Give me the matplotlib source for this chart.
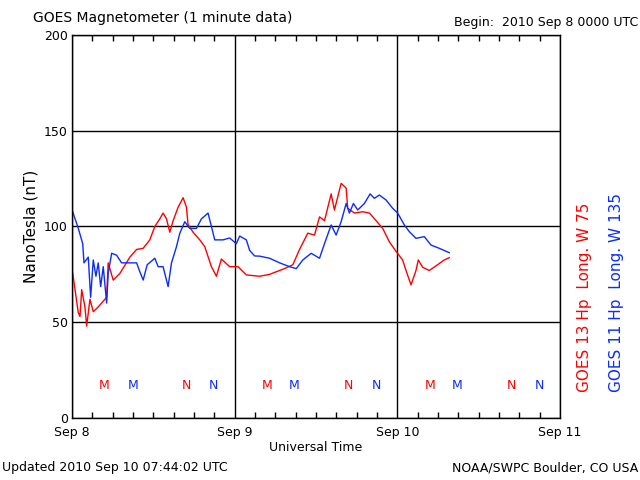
import matplotlib
matplotlib.use("Agg")
import matplotlib.pyplot as plt
from matplotlib.ticker import MultipleLocator

# hours since 2010 Sep 8 00:00 UTC, values in nT
g13_hours = [0.1, 0.93, 1.18, 1.43, 1.91, 2.16, 2.65, 3.14, 3.87, 4.61, 5.11, 5.34,
             6.08, 7.07, 8.54, 9.53, 10.5, 11.48, 12.22, 12.96, 13.44, 13.94, 14.43,
             14.92, 15.65, 16.39, 16.89, 17.12, 17.86, 18.85, 19.58, 20.57, 21.31,
             22.04, 23.26, 24.49, 25.72, 27.68, 29.15, 31.36, 32.58, 33.57, 34.79,
             35.78, 36.52, 37.25, 38.24, 38.72, 39.71, 40.45, 40.68, 41.67, 42.89,
             43.88, 44.87, 45.84, 46.82, 47.81, 48.78, 49.28, 50.02, 50.75, 51.09,
             51.73, 52.71, 53.93, 54.92, 55.66]
g13_nt = [75.6, 55, 53, 67, 58, 48, 62, 55.5, 58, 61, 63, 81,
          72, 75.5, 84, 88, 88.6, 93, 100, 104, 107, 104, 97,
          103, 110, 115, 110, 101, 97, 93, 89.5, 79, 74,
          83, 79, 79, 74.7, 74, 75, 78, 80, 88, 96.5,
          95.5, 105, 103, 117, 108.6, 122.5, 120, 109.5, 107, 107.7,
          107, 103, 99, 92, 87, 82.5, 77, 69.5, 77, 82.5,
          78.7, 77, 80, 82.5, 83.7]

g11_hours = [0.1, 0.93, 1.58, 1.77, 2.4, 2.75, 3.14, 3.53, 3.87, 4.23, 4.61, 5.11,
             5.34, 5.85, 6.58, 7.32, 8.05, 9.53, 10.01, 10.5, 11.09, 12.22, 12.71,
             13.44, 14.18, 14.68, 15.42, 15.9, 16.64, 17.37, 18.36, 19.1, 20.07,
             20.57, 21.06, 22.28, 23.26, 24.25, 24.74, 25.72, 26.21, 26.95, 27.68,
             29.15, 30.63, 32.1, 33.09, 34.06, 35.29, 36.52, 37.25, 38.24, 38.97,
             39.71, 40.45, 40.93, 41.52, 42.16, 43.14, 43.98, 44.61, 45.35, 46.34,
             47.31, 48.05, 49.03, 49.77, 50.75, 51.98, 52.96, 54.18, 55.66]
g11_nt = [107.7, 99, 91, 81, 84, 63, 82.5, 74, 81, 68.6, 79, 60,
          75.5, 86, 85, 81, 81, 81, 76.4, 72, 80, 83.4, 79,
          79, 68.6, 81, 89.5, 96.4, 102.5, 99, 99, 104, 107,
          100, 93, 93, 94, 91, 95, 93, 87.5, 84.6, 84.5,
          83.4, 81, 79, 78, 82.5, 86, 83.4, 91, 100.8, 95.5,
          102.5, 112, 107, 112, 108.6, 112, 117, 114.7, 116.4, 113.8,
          109.5, 107, 100.8, 97.3, 93.8, 94.7, 90.3, 88.6, 86.3]

# local midnight / noon markers
mark_labels = ["M", "M", "N", "N"] * 3
mark_hours = [4.8, 9.0, 16.95, 20.9, 28.8, 32.8, 40.8, 44.9, 52.8, 56.8, 64.8, 68.9]
mark_colors = ["#ff0000", "#0a2cff", "#ff0000", "#0a2cff"] * 3

day_labels = ["Sep 8", "Sep 9", "Sep 10", "Sep 11"]

RED = "#ff0000"
BLUE = "#0a2cff"

fig = plt.figure(figsize=(6.4, 4.8), dpi=100)
ax = fig.add_axes([0.1125, 0.1292, 0.7625, 0.798])

ax.plot(g13_hours, g13_nt, color=RED, lw=1.0)
ax.plot(g11_hours, g11_nt, color=BLUE, lw=1.0)

for lab, h, c in zip(mark_labels, mark_hours, mark_colors):
    ax.text(h, 17, lab, color=c, fontsize=9, ha="center", va="center")

ax.set_xlim(0, 72)
ax.set_ylim(0, 200)
ax.set_xticks([0, 24, 48, 72])
ax.set_xticklabels(day_labels, fontsize=9)
ax.xaxis.set_minor_locator(MultipleLocator(3))
ax.set_yticks([0, 50, 100, 150, 200])
ax.set_yticklabels(["0", "50", "100", "150", "200"], fontsize=9)
ax.tick_params(axis="x", which="major", length=0, pad=6)
ax.tick_params(axis="x", which="minor", direction="in", length=4, width=1,
               top=True, bottom=True)
ax.tick_params(axis="y", length=0, pad=3)
ax.grid(True, which="major", color="black", lw=1.0)
for s in ax.spines.values():
    s.set_linewidth(1.0)

ax.set_xlabel("Universal Time", fontsize=9, labelpad=1)
ax.set_ylabel("NanoTesla (nT)", fontsize=11, labelpad=4)

fig.text(0.052, 0.962, "GOES Magnetometer (1 minute data)", fontsize=10, va="center")
fig.text(0.997, 0.953, "Begin:  2010 Sep 8 0000 UTC", fontsize=9, ha="right", va="center")
fig.text(0.003, 0.025, "Updated 2010 Sep 10 07:44:02 UTC", fontsize=9, va="center")
fig.text(0.997, 0.025, "NOAA/SWPC Boulder, CO USA", fontsize=9, ha="right", va="center")

fig.text(0.914, 0.183, "GOES 13 Hp  Long. W 75", color=RED, fontsize=11,
         rotation=90, ha="center", va="bottom")
fig.text(0.964, 0.183, "GOES 11 Hp  Long. W 135", color=BLUE, fontsize=11,
         rotation=90, ha="center", va="bottom")

fig.savefig("out.png", dpi=100)
